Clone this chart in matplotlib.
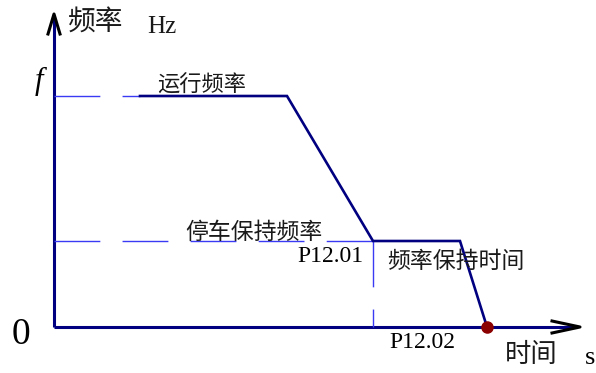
import numpy as np
import matplotlib
matplotlib.use("Agg")
import matplotlib.pyplot as plt

####figure settings####
plt.rcParams["font.family"] = ["Noto Sans CJK SC", "DejaVu Sans"]

# deceleration profile (time, frequency) in drawing units
t_profile = [86, 233, 319, 406, 433]
f_profile = [231, 231, 86, 86, 0]
f_run = 231
f_hold = 86
t_p1201 = 319
t_end = 433
t_axis_max = 526
f_axis_max = 313

navy = "#000080"
dash_blue = "#3a3af5"
cjk = ["Noto Sans CJK SC", "DejaVu Sans"]
serif = ["Liberation Serif", "DejaVu Serif"]

fig = plt.figure(figsize=(5.96, 3.73), dpi=100)
ax = fig.add_axes([0, 0, 1, 1])
ax.set_xlim(-54, 542)
ax.set_ylim(-46, 327)
ax.axis("off")

# axes lines
ax.plot([0, t_axis_max - 3], [0, 0], color=navy, lw=2.2, solid_capstyle="butt")
ax.plot([0, 0], [0, f_axis_max - 3], color=navy, lw=2.2, solid_capstyle="butt")
# open arrow heads
ax.plot([t_axis_max - 28, t_axis_max, t_axis_max - 28], [6, 0, -6], color="k", lw=2.2)
ax.plot([-6, 0, 6], [f_axis_max - 20, f_axis_max, f_axis_max - 20], color="k", lw=2.2)

# guide dashes
ds = (0, (33, 16))
ax.plot([0, t_profile[0]], [f_run, f_run], color=dash_blue, lw=1, linestyle=ds)
ax.plot([0, t_p1201], [f_hold, f_hold], color=dash_blue, lw=1, linestyle=ds)
ax.plot([t_p1201, t_p1201], [f_hold, 0], color=dash_blue, lw=1, linestyle=ds)

# profile
ax.plot(t_profile, f_profile, color=navy, lw=1.9, solid_joinstyle="miter")
ax.plot([t_end], [0], "o", color="#8b0000", markersize=8, zorder=5)

# labels
tc = "#1a1a1a"
ax.text(14, 305, "频率", family=cjk, fontsize=20, weight="light", color=tc, ha="left", va="center")
ax.text(93, 300, "Hz", family=serif, fontsize=18, color=tc, ha="left", va="center")
ax.text(-19, 246, "f", family=serif, style="italic", fontsize=22, ha="left", va="center")
ax.text(-42, -8, "0", family=serif, fontsize=27, ha="left", va="center")
ax.text(103, 242, "运行频率", family=cjk, fontsize=16, weight="light", color=tc, ha="left", va="center")
ax.text(131, 95, "停车保持频率", family=cjk, fontsize=16.5, weight="light", color=tc, ha="left", va="center")
ax.text(309, 71, "P12.01", family=serif, fontsize=17, ha="right", va="center")
ax.text(333, 66, "频率保持时间", family=cjk, fontsize=16.5, weight="light", color=tc, ha="left", va="center")
ax.text(335, -16, "P12.02", family=serif, fontsize=17, ha="left", va="center")
ax.text(451, -28, "时间", family=cjk, fontsize=19, weight="light", color=tc, ha="left", va="center")
ax.text(531, -31, "s", family=serif, fontsize=19, ha="left", va="center")

plt.savefig("out.png", dpi=100)
